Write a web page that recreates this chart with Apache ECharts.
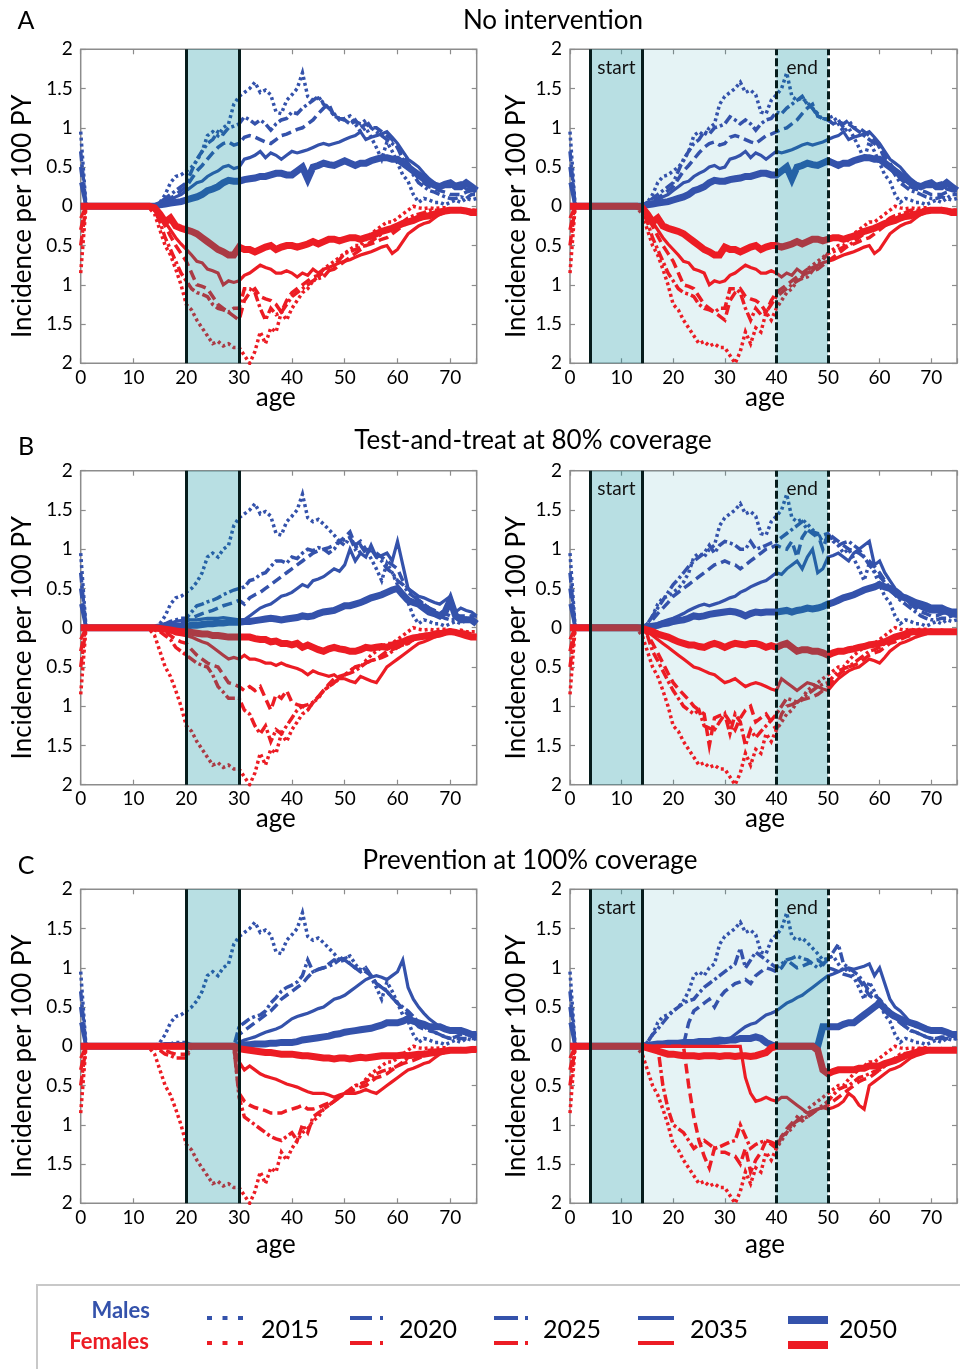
<!DOCTYPE html>
<html><head><meta charset="utf-8">
<script src="https://cdn.jsdelivr.net/npm/echarts@6/dist/echarts.min.js"></script>
<style>html,body{margin:0;padding:0;background:#fff}#c{width:960px;height:1369px}</style>
</head><body><div id="c"></div>
<script>
// ---------- DATA (ages 0..75, one value per year; females negative) ----------
const xTicks = [0,10,20,30,40,50,60,70];
const yTicks = [-2,-1.5,-1,-0.5,0,0.5,1,1.5,2];
const years = ['2015','2020','2025','2035','2050'];
const titles = ['No intervention','Test-and-treat at 80% coverage','Prevention at 100% coverage'];
const letters = ['A','B','C'];
const bandLeft = [20,30];
const bandStart = [4,14];
const bandEnd = [40,50];

const M2015 = [0.95,0,0,0,0,0,0,0,0,0, 0,0,0,0,0,0.05,0.15,0.3,0.38,0.4, 0.45,0.5,0.58,0.7,0.9,0.95,0.9,1.0,1.05,1.3, 1.4,1.45,1.5,1.58,1.45,1.48,1.42,1.2,1.18,1.35, 1.42,1.5,1.7,1.4,1.35,1.38,1.32,1.25,1.18,1.1, 1.12,1.15,1.05,0.95,1.0,0.88,0.75,0.6,0.82,0.7, 0.55,0.4,0.32,0.15,0.05,0.1,0.08,0.05,0.05,0.02, 0.05,0.08,0.05,0.1,0.08,0.1];
const F2015 = [-0.85,0,0,0,0,0,0,0,0,0, 0,0,0,-0.02,-0.1,-0.3,-0.5,-0.62,-0.8,-1.0, -1.25,-1.32,-1.45,-1.55,-1.65,-1.75,-1.72,-1.78,-1.75,-1.8, -1.8,-1.9,-2.0,-1.85,-1.6,-1.75,-1.55,-1.6,-1.35,-1.45, -1.3,-1.2,-1.1,-1.05,-0.95,-0.9,-0.8,-0.75,-0.7,-0.65, -0.6,-0.55,-0.5,-0.5,-0.42,-0.35,-0.3,-0.25,-0.2,-0.2, -0.15,-0.1,-0.05,0,-0.02,-0.03,-0.02,-0.03,-0.02,-0.02, -0.03,-0.05,-0.03,-0.05,-0.05,-0.05];

// A: no intervention
const MA2020 = [0.7,0,0,0,0,0,0,0,0,0, 0,0,0,0,0,0.05,0.1,0.15,0.2,0.25, 0.3,0.45,0.6,0.7,0.8,0.85,0.95,0.92,1.0,1.02, 1.05,1.14,1.1,1.05,1.1,1.05,0.97,1.05,1.1,1.12, 1.2,1.18,1.25,1.3,1.35,1.4,1.3,1.25,1.15,1.12, 1.1,1.05,1.08,1.05,1.1,1.0,0.95,0.9,0.85,0.8, 0.75,0.6,0.5,0.4,0.3,0.25,0.2,0.18,0.15,0.12, 0.1,0.1,0.12,0.1,0.15,0.15];
const MA2025 = [0.5,0,0,0,0,0,0,0,0,0, 0,0,0,0,0,0.03,0.08,0.1,0.15,0.2, 0.25,0.35,0.45,0.52,0.6,0.68,0.75,0.8,0.82,0.78, 0.8,0.88,0.9,0.88,0.85,0.82,0.8,0.85,0.9,0.92, 0.95,0.98,1.0,1.05,1.1,1.18,1.25,1.3,1.15,1.12, 1.1,1.05,1.1,1.0,1.05,1.0,1.0,0.95,0.9,0.85, 0.75,0.65,0.55,0.45,0.35,0.3,0.25,0.22,0.2,0.18, 0.15,0.15,0.15,0.18,0.2,0.2];
const MA2035 = [0.3,0,0,0,0,0,0,0,0,0, 0,0,0,0,0,0.02,0.05,0.08,0.12,0.15, 0.2,0.25,0.3,0.32,0.38,0.42,0.45,0.5,0.52,0.48, 0.5,0.6,0.62,0.65,0.7,0.62,0.68,0.65,0.6,0.65, 0.7,0.68,0.7,0.72,0.75,0.78,0.8,0.78,0.8,0.82, 0.85,0.88,0.9,0.95,0.85,0.88,0.9,0.92,0.95,0.88, 0.8,0.7,0.6,0.55,0.5,0.42,0.35,0.3,0.25,0.25, 0.25,0.28,0.3,0.22,0.2,0.2];
const MA2050 = [0,0,0,0,0,0,0,0,0,0, 0,0,0,0,0,0.02,0.03,0.04,0.05,0.06, 0.08,0.1,0.12,0.15,0.2,0.22,0.25,0.3,0.33,0.32, 0.32,0.34,0.35,0.36,0.38,0.38,0.4,0.42,0.42,0.4, 0.4,0.45,0.5,0.35,0.5,0.52,0.55,0.53,0.52,0.55, 0.58,0.55,0.52,0.55,0.55,0.58,0.6,0.62,0.62,0.6, 0.6,0.55,0.5,0.45,0.4,0.35,0.3,0.27,0.25,0.28, 0.3,0.25,0.25,0.3,0.25,0.2];
const FA2020 = [-0.5,0,0,0,0,0,0,0,0,0, 0,0,0,0,-0.05,-0.2,-0.4,-0.55,-0.7,-0.85, -0.95,-1.05,-1.1,-1.12,-1.15,-1.25,-1.3,-1.32,-1.35,-1.3, -1.3,-1.05,-1.05,-1.1,-1.3,-1.45,-1.3,-1.38,-1.35,-1.25, -1.15,-1.1,-1.05,-1.0,-0.95,-0.92,-0.9,-0.82,-0.75,-0.68, -0.6,-0.58,-0.55,-0.52,-0.5,-0.45,-0.4,-0.35,-0.3,-0.28, -0.25,-0.2,-0.15,-0.12,-0.1,-0.08,-0.05,-0.05,-0.05,-0.04, -0.03,-0.04,-0.05,-0.05,-0.05,-0.05];
const FA2025 = [-0.3,0,0,0,0,0,0,0,0,0, 0,0,0,0,-0.03,-0.12,-0.25,-0.38,-0.5,-0.6, -0.7,-0.85,-1.0,-1.02,-1.05,-1.15,-1.25,-1.3,-1.35,-1.4, -1.45,-1.2,-1.1,-1.05,-1.15,-1.18,-1.2,-1.25,-1.35,-1.2, -1.1,-1.05,-1.0,-0.95,-0.9,-0.88,-0.85,-0.82,-0.8,-0.75, -0.7,-0.65,-0.6,-0.55,-0.5,-0.48,-0.45,-0.42,-0.4,-0.35, -0.3,-0.25,-0.2,-0.18,-0.15,-0.12,-0.1,-0.09,-0.08,-0.06, -0.05,-0.05,-0.05,-0.05,-0.05,-0.05];
const FA2035 = [-0.15,0,0,0,0,0,0,0,0,0, 0,0,0,0,-0.05,-0.12,-0.2,-0.3,-0.4,-0.48, -0.55,-0.62,-0.7,-0.72,-0.8,-0.82,-0.85,-1.0,-0.95,-0.97, -0.95,-0.88,-0.85,-0.8,-0.75,-0.78,-0.8,-0.85,-0.85,-0.82, -0.85,-0.9,-0.85,-0.88,-0.8,-0.85,-0.8,-0.78,-0.75,-0.72, -0.7,-0.68,-0.65,-0.62,-0.6,-0.58,-0.55,-0.52,-0.5,-0.6, -0.55,-0.45,-0.35,-0.3,-0.25,-0.22,-0.2,-0.15,-0.1,-0.08, -0.05,-0.05,-0.05,-0.08,-0.1,-0.1];
const FA2050 = [0,0,0,0,0,0,0,0,0,0, 0,0,0,0,-0.02,-0.1,-0.2,-0.15,-0.25,-0.28, -0.3,-0.32,-0.35,-0.4,-0.45,-0.5,-0.55,-0.58,-0.62,-0.62, -0.52,-0.55,-0.55,-0.58,-0.55,-0.52,-0.5,-0.55,-0.52,-0.5, -0.5,-0.52,-0.5,-0.48,-0.45,-0.48,-0.45,-0.42,-0.42,-0.44, -0.42,-0.4,-0.4,-0.42,-0.4,-0.38,-0.35,-0.32,-0.3,-0.28, -0.25,-0.22,-0.2,-0.18,-0.15,-0.13,-0.12,-0.1,-0.08,-0.06, -0.05,-0.05,-0.05,-0.06,-0.08,-0.08];

// B left: test-and-treat, ages 20-30
const MBL2020 = [0.7,0,0,0,0,0,0,0,0,0, 0,0,0,0,0,0.03,0.05,0.08,0.1,0.12, 0.12,0.2,0.28,0.3,0.33,0.35,0.38,0.42,0.45,0.48, 0.5,0.52,0.6,0.62,0.68,0.7,0.78,0.85,0.85,0.82, 0.9,0.88,0.95,1.0,0.98,1.02,1.0,0.95,1.0,1.1, 1.05,1.15,1.0,1.05,0.95,1.0,0.9,0.85,0.75,0.7, 0.6,0.55,0.45,0.4,0.35,0.3,0.25,0.2,0.15,0.12, 0.1,0.1,0.12,0.12,0.15,0.15];
const MBL2025 = [0.5,0,0,0,0,0,0,0,0,0, 0,0,0,0,0,0.02,0.04,0.05,0.06,0.07, 0.08,0.12,0.15,0.18,0.2,0.22,0.25,0.28,0.3,0.32, 0.35,0.3,0.38,0.42,0.45,0.5,0.55,0.6,0.65,0.7, 0.75,0.8,0.85,0.9,0.95,0.98,1.0,1.02,1.05,1.1, 1.15,1.22,1.05,1.1,1.0,0.98,0.95,0.9,0.85,0.8, 0.75,0.6,0.5,0.42,0.35,0.3,0.25,0.22,0.2,0.18, 0.15,0.15,0.15,0.15,0.15,0.15];
const MBL2035 = [0.3,0,0,0,0,0,0,0,0,0, 0,0,0,0,0,0.02,0.03,0.05,0.08,0.09, 0.1,0.1,0.1,0.11,0.12,0.12,0.12,0.13,0.12,0.11, 0.1,0.1,0.15,0.2,0.25,0.28,0.3,0.35,0.4,0.42, 0.45,0.5,0.55,0.52,0.6,0.62,0.65,0.7,0.75,0.72, 0.8,1.0,0.85,0.95,0.9,1.05,0.9,0.92,0.95,0.85, 1.1,0.8,0.5,0.45,0.4,0.38,0.35,0.32,0.3,0.35, 0.4,0.2,0.25,0.22,0.2,0.15];
const MBL2050 = [0,0,0,0,0,0,0,0,0,0, 0,0,0,0,0,0.01,0.02,0.02,0.02,0.02, 0.02,0.03,0.03,0.04,0.05,0.05,0.06,0.06,0.07,0.07, 0.07,0.08,0.08,0.09,0.1,0.11,0.12,0.11,0.1,0.11, 0.12,0.13,0.15,0.14,0.15,0.18,0.2,0.21,0.22,0.25, 0.28,0.28,0.3,0.32,0.35,0.38,0.4,0.42,0.45,0.48, 0.5,0.42,0.35,0.32,0.3,0.25,0.2,0.18,0.15,0.2, 0.35,0.15,0.1,0.1,0.1,0.05];
const FBL2020 = [-0.5,0,0,0,0,0,0,0,0,0, 0,0,0,0,-0.03,-0.05,-0.1,-0.15,-0.25,-0.3, -0.35,-0.4,-0.45,-0.48,-0.5,-0.6,-0.75,-0.82,-0.9,-0.9, -0.9,-1.05,-1.1,-1.25,-1.35,-1.25,-1.45,-1.3,-1.35,-1.25, -1.15,-1.05,-1.0,-0.98,-0.95,-0.88,-0.8,-0.75,-0.7,-0.65, -0.6,-0.58,-0.55,-0.5,-0.45,-0.42,-0.4,-0.38,-0.35,-0.3, -0.25,-0.22,-0.2,-0.15,-0.1,-0.09,-0.08,-0.06,-0.05,-0.05, -0.05,-0.05,-0.06,-0.08,-0.1,-0.1];
const FBL2025 = [-0.3,0,0,0,0,0,0,0,0,0, 0,0,0,0,-0.02,-0.03,-0.05,-0.1,-0.15,-0.18, -0.2,-0.28,-0.35,-0.4,-0.45,-0.48,-0.5,-0.6,-0.7,-0.72, -0.75,-0.8,-0.75,-0.8,-0.75,-0.9,-1.05,-0.85,-0.9,-0.8, -0.95,-0.98,-1.0,-1.05,-0.95,-0.88,-0.8,-0.72,-0.65,-0.62, -0.6,-0.55,-0.5,-0.48,-0.45,-0.42,-0.4,-0.35,-0.3,-0.28, -0.25,-0.22,-0.2,-0.15,-0.1,-0.09,-0.08,-0.06,-0.05,-0.05, -0.05,-0.05,-0.05,-0.06,-0.08,-0.08];
const FBL2035 = [-0.15,0,0,0,0,0,0,0,0,0, 0,0,0,0,-0.01,-0.02,-0.03,-0.05,-0.08,-0.09, -0.1,-0.12,-0.15,-0.18,-0.2,-0.25,-0.3,-0.35,-0.4,-0.38, -0.4,-0.35,-0.4,-0.4,-0.42,-0.45,-0.45,-0.48,-0.45,-0.48, -0.5,-0.52,-0.55,-0.6,-0.55,-0.58,-0.6,-0.62,-0.6,-0.65, -0.65,-0.68,-0.7,-0.62,-0.65,-0.68,-0.7,-0.6,-0.5,-0.45, -0.4,-0.35,-0.3,-0.25,-0.2,-0.18,-0.15,-0.12,-0.1,-0.08, -0.05,-0.05,-0.05,-0.08,-0.1,-0.1];
const FBL2050 = [0,0,0,0,0,0,0,0,0,0, 0,0,0,0,0,-0.01,-0.02,-0.03,-0.04,-0.05, -0.05,-0.06,-0.07,-0.08,-0.08,-0.1,-0.1,-0.11,-0.12,-0.12, -0.12,-0.12,-0.12,-0.14,-0.15,-0.15,-0.18,-0.17,-0.2,-0.2, -0.22,-0.2,-0.25,-0.22,-0.25,-0.28,-0.3,-0.27,-0.25,-0.27, -0.28,-0.3,-0.3,-0.28,-0.25,-0.26,-0.25,-0.24,-0.25,-0.22, -0.2,-0.18,-0.15,-0.13,-0.12,-0.11,-0.1,-0.09,-0.08,-0.06, -0.05,-0.06,-0.08,-0.1,-0.12,-0.12];

// B right: test-and-treat, start/end windows
const MBR2020 = [0.7,0,0,0,0,0,0,0,0,0, 0,0,0,0,0,0.05,0.15,0.25,0.35,0.45, 0.55,0.62,0.7,0.78,0.85,0.9,0.95,1.05,0.95,1.05, 1.1,1.08,1.05,1.0,1.0,1.1,1.0,1.02,1.05,1.08, 1.1,1.15,1.2,1.25,1.3,1.35,1.25,1.2,1.15,1.18, 1.2,1.1,1.05,1.08,1.1,1.05,1.0,0.9,0.8,0.72, 0.65,0.58,0.5,0.42,0.35,0.3,0.25,0.2,0.15,0.12, 0.1,0.1,0.12,0.12,0.15,0.15];
const MBR2025 = [0.5,0,0,0,0,0,0,0,0,0, 0,0,0,0,0,0.03,0.1,0.18,0.25,0.32, 0.4,0.45,0.5,0.55,0.6,0.65,0.7,0.75,0.8,0.82, 0.85,0.82,0.8,0.75,0.8,0.85,0.9,0.95,1.0,1.02, 1.05,1.02,1.0,1.1,0.9,1.15,1.25,1.22,1.2,1.0, 1.2,1.15,1.1,1.05,1.0,0.98,0.95,0.9,0.85,0.78, 0.7,0.6,0.5,0.45,0.4,0.35,0.3,0.25,0.2,0.18, 0.15,0.15,0.18,0.2,0.2,0.2];
const MBR2035 = [0.3,0,0,0,0,0,0,0,0,0, 0,0,0,0,0,0.02,0.03,0.05,0.08,0.1, 0.12,0.15,0.18,0.22,0.25,0.28,0.3,0.28,0.3,0.32, 0.35,0.38,0.4,0.45,0.48,0.52,0.55,0.58,0.6,0.65, 0.7,0.68,0.75,0.8,0.85,0.75,0.9,1.0,0.7,0.75, 0.9,0.92,0.95,0.9,0.85,0.95,1.0,1.05,1.1,0.8, 0.85,0.7,0.6,0.5,0.45,0.38,0.3,0.28,0.25,0.22, 0.2,0.2,0.2,0.18,0.15,0.15];
const MBR2050 = [0,0,0,0,0,0,0,0,0,0, 0,0,0,0,0,0.01,0.02,0.03,0.05,0.06, 0.08,0.09,0.1,0.12,0.15,0.14,0.15,0.17,0.18,0.19, 0.2,0.21,0.2,0.18,0.15,0.18,0.2,0.19,0.2,0.2, 0.2,0.21,0.22,0.2,0.22,0.23,0.25,0.24,0.25,0.27, 0.3,0.32,0.35,0.38,0.4,0.42,0.45,0.48,0.5,0.52, 0.55,0.52,0.5,0.45,0.4,0.38,0.35,0.32,0.3,0.28, 0.25,0.25,0.25,0.22,0.2,0.2];
const FBR2020 = [-0.5,0,0,0,0,0,0,0,0,0, 0,0,0,0,-0.03,-0.1,-0.3,-0.42,-0.55,-0.68, -0.8,-0.9,-1.0,-1.05,-1.1,-1.05,-1.25,-1.28,-1.3,-1.2, -1.1,-1.35,-1.1,-1.2,-1.5,-1.3,-1.4,-1.32,-1.25,-1.18, -1.1,-1.0,-0.9,-0.92,-0.95,-0.9,-0.85,-0.8,-0.75,-0.72, -0.7,-0.62,-0.55,-0.52,-0.5,-0.45,-0.4,-0.35,-0.3,-0.28, -0.25,-0.2,-0.15,-0.12,-0.1,-0.09,-0.08,-0.06,-0.05,-0.05, -0.05,-0.05,-0.05,-0.05,-0.05,-0.05];
const FBR2025 = [-0.3,0,0,0,0,0,0,0,0,0, 0,0,0,0,-0.02,-0.08,-0.2,-0.32,-0.45,-0.58, -0.7,-0.78,-0.85,-0.92,-1.0,-1.05,-1.1,-1.5,-1.15,-1.12, -1.1,-1.2,-1.3,-1.15,-1.05,-1.0,-1.2,-1.15,-1.1,-1.2, -1.3,-1.1,-1.0,-0.98,-0.95,-0.92,-0.9,-0.88,-0.85,-0.8, -0.75,-0.68,-0.6,-0.55,-0.5,-0.48,-0.45,-0.4,-0.35,-0.32, -0.3,-0.25,-0.2,-0.18,-0.15,-0.12,-0.1,-0.08,-0.05,-0.05, -0.05,-0.05,-0.05,-0.05,-0.05,-0.05];
const FBR2035 = [-0.15,0,0,0,0,0,0,0,0,0, 0,0,0,0,-0.02,-0.05,-0.1,-0.15,-0.2,-0.25, -0.3,-0.35,-0.4,-0.45,-0.5,-0.52,-0.55,-0.58,-0.6,-0.65, -0.7,-0.68,-0.65,-0.7,-0.75,-0.72,-0.7,-0.72,-0.75,-0.78, -0.8,-0.65,-0.7,-0.75,-0.8,-0.75,-0.7,-0.72,-0.75,-0.78, -0.8,-0.72,-0.65,-0.6,-0.55,-0.52,-0.5,-0.45,-0.4,-0.42, -0.45,-0.38,-0.3,-0.25,-0.2,-0.18,-0.15,-0.12,-0.1,-0.08, -0.05,-0.05,-0.05,-0.05,-0.05,-0.05];
const FBR2050 = [0,0,0,0,0,0,0,0,0,0, 0,0,0,0,-0.01,-0.03,-0.05,-0.08,-0.1,-0.12, -0.15,-0.18,-0.2,-0.22,-0.22,-0.24,-0.25,-0.22,-0.2,-0.22, -0.25,-0.22,-0.2,-0.21,-0.22,-0.2,-0.2,-0.22,-0.25,-0.23, -0.25,-0.22,-0.2,-0.25,-0.3,-0.28,-0.28,-0.3,-0.3,-0.32, -0.35,-0.32,-0.3,-0.3,-0.28,-0.27,-0.25,-0.24,-0.22,-0.21, -0.2,-0.18,-0.15,-0.12,-0.1,-0.08,-0.05,-0.05,-0.05,-0.05, -0.05,-0.05,-0.05,-0.05,-0.05,-0.05];

// C left: prevention, ages 20-30
const MCL2020 = [0.7,0,0,0,0,0,0,0,0,0, 0,0,0,0,0,0.01,0.02,0.03,0.05,0.05, 0.05,0,0,0,0,0,0,0,0,0, 0.25,0.3,0.35,0.38,0.4,0.45,0.55,0.62,0.7,0.75, 0.78,0.82,0.9,1.1,0.95,0.98,1.0,1.02,1.05,1.1, 1.15,1.05,1.0,0.98,0.95,0.9,0.8,0.75,0.7,0.62, 0.55,0.5,0.45,0.38,0.3,0.25,0.2,0.18,0.15,0.12, 0.1,0.12,0.15,0.15,0.15,0.15];
const MCL2025 = [0.5,0,0,0,0,0,0,0,0,0, 0,0,0,0,0,0.01,0.02,0.02,0.03,0.03, 0.03,0,0,0,0,0,0,0,0,0, 0.15,0.2,0.25,0.3,0.35,0.4,0.45,0.52,0.6,0.65, 0.7,0.75,0.8,0.88,0.95,0.98,1.0,1.05,1.1,1.08, 1.1,1.05,1.0,0.95,1.0,0.9,0.8,0.75,0.7,0.62, 0.55,0.48,0.4,0.32,0.25,0.22,0.2,0.18,0.15,0.12, 0.1,0.1,0.1,0.1,0.1,0.1];
const MCL2035 = [0.3,0,0,0,0,0,0,0,0,0, 0,0,0,0,0,0.01,0.02,0.02,0.03,0.03, 0.03,0,0,0,0,0,0,0,0,0, 0.05,0.08,0.1,0.12,0.15,0.18,0.2,0.22,0.25,0.3, 0.35,0.38,0.4,0.42,0.45,0.48,0.5,0.55,0.6,0.62, 0.65,0.7,0.75,0.8,0.85,0.88,0.9,0.88,0.85,0.9, 0.95,1.1,0.75,0.6,0.5,0.42,0.35,0.3,0.25,0.22, 0.2,0.2,0.2,0.18,0.15,0.15];
const MCL2050 = [0,0,0,0,0,0,0,0,0,0, 0,0,0,0,0,0,0.01,0.01,0.01,0.01, 0.01,0,0,0,0,0,0,0,0,0, 0.02,0.02,0.02,0.03,0.03,0.03,0.04,0.04,0.05,0.05, 0.05,0.06,0.08,0.09,0.1,0.11,0.12,0.13,0.15,0.16, 0.18,0.19,0.2,0.21,0.22,0.23,0.25,0.27,0.3,0.3, 0.3,0.32,0.35,0.32,0.3,0.28,0.25,0.25,0.25,0.22, 0.2,0.2,0.2,0.18,0.15,0.15];
const FCL2020 = [-0.5,0,0,0,0,0,0,0,0,0, 0,0,0,0,-0.02,-0.05,-0.1,-0.12,-0.15,-0.15, -0.15,0,0,0,0,0,0,0,0,0, -0.65,-0.9,-0.95,-1.0,-1.05,-1.1,-1.15,-1.18,-1.2,-1.15, -1.1,-1.2,-1.0,-1.1,-0.9,-0.85,-0.8,-0.75,-0.7,-0.65, -0.6,-0.55,-0.5,-0.48,-0.45,-0.4,-0.35,-0.32,-0.3,-0.28, -0.25,-0.2,-0.15,-0.12,-0.1,-0.08,-0.05,-0.05,-0.05,-0.05, -0.05,-0.05,-0.05,-0.05,-0.05,-0.05];
const FCL2025 = [-0.3,0,0,0,0,0,0,0,0,0, 0,0,0,0,-0.01,-0.03,-0.05,-0.08,-0.1,-0.1, -0.1,0,0,0,0,0,0,0,0,0, -0.6,-0.7,-0.75,-0.78,-0.8,-0.82,-0.85,-0.85,-0.85,-0.82, -0.8,-0.78,-0.75,-0.8,-0.8,-0.78,-0.75,-0.72,-0.7,-0.65, -0.6,-0.58,-0.55,-0.52,-0.5,-0.45,-0.4,-0.38,-0.35,-0.3, -0.25,-0.22,-0.2,-0.18,-0.15,-0.12,-0.1,-0.08,-0.05,-0.05, -0.05,-0.05,-0.05,-0.05,-0.05,-0.05];
const FCL2035 = [-0.15,0,0,0,0,0,0,0,0,0, 0,0,0,0,0,0,-0.01,-0.02,-0.02,-0.02, -0.02,0,0,0,0,0,0,0,0,0, -0.2,-0.3,-0.25,-0.3,-0.35,-0.38,-0.4,-0.42,-0.45,-0.48, -0.5,-0.52,-0.55,-0.58,-0.6,-0.6,-0.6,-0.62,-0.65,-0.62, -0.6,-0.6,-0.6,-0.58,-0.55,-0.58,-0.6,-0.55,-0.5,-0.45, -0.4,-0.35,-0.3,-0.28,-0.25,-0.22,-0.2,-0.15,-0.1,-0.08, -0.05,-0.05,-0.05,-0.05,-0.05,-0.05];
const FCL2050 = [0,0,0,0,0,0,0,0,0,0, 0,0,0,0,0,0,0,0,0,0, 0,0,0,0,0,0,0,0,0,0, -0.03,-0.04,-0.05,-0.06,-0.07,-0.08,-0.08,-0.09,-0.1,-0.1, -0.1,-0.11,-0.12,-0.12,-0.13,-0.14,-0.15,-0.15,-0.16,-0.15, -0.15,-0.16,-0.15,-0.14,-0.15,-0.14,-0.13,-0.12,-0.12,-0.12, -0.12,-0.11,-0.12,-0.11,-0.1,-0.1,-0.09,-0.08,-0.07,-0.06, -0.05,-0.05,-0.05,-0.05,-0.04,-0.04];

// C right: prevention, start/end windows
const MCR2020 = [0.7,0,0,0,0,0,0,0,0,0, 0,0,0,0,0,0.05,0.15,0.22,0.3,0.38, 0.45,0.5,0.55,0.58,0.6,0.68,0.75,0.8,0.85,0.9, 0.95,1.0,1.05,1.25,1.0,1.1,1.2,1.15,1.1,1.05, 1.0,1.05,1.1,1.12,1.15,1.12,1.1,1.05,1.0,1.05, 1.1,1.2,1.3,1.05,1.0,0.95,0.9,0.8,0.7,0.65, 0.6,0.52,0.45,0.38,0.3,0.25,0.2,0.18,0.15,0.12, 0.1,0.1,0.12,0.12,0.15,0.15];
const MCR2025 = [0.5,0,0,0,0,0,0,0,0,0, 0,0,0,0,0,0.01,0.02,0.02,0.02,0.02, 0.02,0.02,0.02,0.3,0.45,0.5,0.55,0.6,0.5,0.62, 0.7,0.75,0.8,0.82,0.85,0.8,0.9,0.95,1.0,0.98, 0.95,1.0,1.1,1.05,1.0,1.02,1.05,1.08,1.1,1.05, 1.0,0.98,0.95,0.92,0.9,0.88,0.85,0.75,0.65,0.6, 0.55,0.48,0.4,0.35,0.3,0.25,0.2,0.18,0.15,0.12, 0.1,0.1,0.1,0.1,0.1,0.1];
const MCR2035 = [0.3,0,0,0,0,0,0,0,0,0, 0,0,0,0,0,0.01,0.02,0.02,0.02,0.02, 0.02,0.02,0.02,0.02,0.02,0.02,0.02,0.02,0.03,0.04, 0.05,0.1,0.15,0.2,0.25,0.28,0.3,0.35,0.4,0.42, 0.45,0.5,0.55,0.58,0.62,0.65,0.7,0.75,0.8,0.85, 0.9,0.92,0.95,0.98,1.0,0.98,1.0,1.02,1.05,0.9, 1.0,0.8,0.6,0.5,0.45,0.38,0.3,0.25,0.25,0.22, 0.2,0.2,0.2,0.18,0.15,0.15];
const MCR2050 = [0,0,0,0,0,0,0,0,0,0, 0,0,0,0,0,0.01,0.02,0.03,0.03,0.04, 0.04,0.04,0.05,0.05,0.05,0.06,0.06,0.06,0.07,0.08, 0.07,0.08,0.08,0.1,0.1,0.1,0.12,0.1,0.05,0.02, 0,0,0,0,0,0,0,0,0,0.25, 0.25,0.25,0.25,0.28,0.3,0.3,0.35,0.4,0.45,0.5, 0.55,0.48,0.42,0.38,0.35,0.32,0.3,0.28,0.25,0.22, 0.2,0.2,0.2,0.18,0.15,0.15];
const FCR2020 = [-0.5,0,0,0,0,0,0,0,0,0, 0,0,0,0,0,0,0,0,-0.5,-0.8, -1.0,-1.05,-1.1,-1.2,-1.3,-1.25,-1.2,-1.25,-1.3,-1.28, -1.25,-1.22,-1.2,-1.0,-1.15,-1.3,-1.25,-1.22,-1.2,-1.22, -1.25,-1.15,-1.1,-1.0,-0.95,-0.92,-0.9,-0.85,-0.8,-0.75, -0.7,-0.62,-0.55,-0.52,-0.5,-0.45,-0.4,-0.38,-0.35,-0.32, -0.3,-0.25,-0.2,-0.15,-0.1,-0.09,-0.08,-0.06,-0.05,-0.05, -0.05,-0.05,-0.05,-0.05,-0.05,-0.05];
const FCR2025 = [-0.3,0,0,0,0,0,0,0,0,0, 0,0,0,0,0,0,0,0,0,0, 0,0,0,-0.5,-0.9,-1.2,-1.4,-1.55,-1.3,-1.35, -1.35,-1.38,-1.4,-1.5,-1.3,-1.6,-1.45,-1.35,-1.2,-1.25, -1.3,-1.15,-1.05,-0.98,-0.9,-0.95,-0.9,-0.85,-0.8,-0.78, -0.75,-0.7,-0.65,-0.6,-0.55,-0.5,-0.45,-0.42,-0.4,-0.35, -0.3,-0.25,-0.2,-0.18,-0.15,-0.12,-0.1,-0.08,-0.05,-0.05, -0.05,-0.05,-0.05,-0.05,-0.05,-0.05];
const FCR2035 = [-0.15,0,0,0,0,0,0,0,0,0, 0,0,0,0,0,0,0,0,0,0, 0,0,0,0,0,0,0,0,0,0, 0,0,0,0,-0.4,-0.6,-0.7,-0.68,-0.65,-0.68, -0.7,-0.65,-0.65,-0.7,-0.75,-0.8,-0.85,-0.82,-0.8,-0.78, -0.8,-0.78,-0.75,-0.7,-0.6,-0.65,-0.75,-0.8,-0.5,-0.45, -0.4,-0.35,-0.3,-0.28,-0.25,-0.2,-0.15,-0.12,-0.1,-0.08, -0.05,-0.05,-0.05,-0.05,-0.05,-0.05];
const FCR2050 = [0,0,0,0,0,0,0,0,0,0, 0,0,0,0,0,-0.02,-0.04,-0.06,-0.08,-0.1, -0.1,-0.11,-0.12,-0.12,-0.12,-0.13,-0.12,-0.12,-0.12,-0.13, -0.12,-0.12,-0.13,-0.12,-0.12,-0.13,-0.12,-0.1,-0.08,-0.02, 0,0,0,0,0,0,0,0,-0.05,-0.3, -0.35,-0.32,-0.3,-0.3,-0.3,-0.3,-0.28,-0.28,-0.25,-0.25, -0.25,-0.22,-0.2,-0.18,-0.15,-0.12,-0.1,-0.08,-0.05,-0.05, -0.05,-0.05,-0.05,-0.05,-0.05,-0.05];

const panels = [
  {row:0, col:0, m:[M2015,MA2020,MA2025,MA2035,MA2050], f:[F2015,FA2020,FA2025,FA2035,FA2050]},
  {row:0, col:1, m:[M2015,MA2020,MA2025,MA2035,MA2050], f:[F2015,FA2020,FA2025,FA2035,FA2050]},
  {row:1, col:0, m:[M2015,MBL2020,MBL2025,MBL2035,MBL2050], f:[F2015,FBL2020,FBL2025,FBL2035,FBL2050]},
  {row:1, col:1, m:[M2015,MBR2020,MBR2025,MBR2035,MBR2050], f:[F2015,FBR2020,FBR2025,FBR2035,FBR2050]},
  {row:2, col:0, m:[M2015,MCL2020,MCL2025,MCL2035,MCL2050], f:[F2015,FCL2020,FCL2025,FCL2035,FCL2050]},
  {row:2, col:1, m:[M2015,MCR2020,MCR2025,MCR2035,MCR2050], f:[F2015,FCR2020,FCR2025,FCR2035,FCR2050]}
];
panels.forEach(p => p.m.concat(p.f).forEach(a => { if (a.length !== 76) throw new Error('bad length ' + a.length); }));

// ---------- STYLE / LAYOUT ----------
const FONT = 'Lato';
const BLUE = '#3452ab', RED = '#ec1c24';
const colLeft = [80.7, 570], rowTop = [49.3, 470.7, 889.3];
const PW = 396, PH = 314;
const lineStyles = [
  {type:[3,3], width:3.5},
  {type:[10,3,3,3], width:3.5},
  {type:[10,5], width:3.5},
  {type:'solid', width:3.2},
  {type:'solid', width:7}
];
const darkBand = 'rgba(0,140,155,0.28)';
const lightBand = 'rgba(0,140,155,0.10)';
const edgeColor = '#061c1c';

const chart = echarts.init(document.getElementById('c'), null, {renderer:'canvas'});
const option = {animation:false, backgroundColor:'#fff', grid:[], xAxis:[], yAxis:[], series:[], graphic:[]};

const tickStyle = {show:true, inside:true, length:5, lineStyle:{color:'#8c8c8c', width:1.2}};
panels.forEach((p, i) => {
  option.grid.push({left:colLeft[p.col], top:rowTop[p.row], width:PW, height:PH, show:true,
    borderColor:'#8c8c8c', borderWidth:1.5, backgroundColor:'transparent'});
  const xb = {gridIndex:i, type:'value', min:0, max:75, interval:10, splitLine:{show:false}, axisLine:{show:false, onZero:false}, axisTick:tickStyle};
  option.xAxis.push(Object.assign({}, xb, {position:'bottom',
    axisLabel:{fontFamily:FONT, fontSize:19, color:'#000', margin:5,
      formatter: v => (xTicks.indexOf(v) >= 0 ? String(v) : '')}}));
  option.xAxis.push(Object.assign({}, xb, {position:'top', axisLabel:{show:false}}));
  const yb = {gridIndex:i, type:'value', min:yTicks[0], max:yTicks[yTicks.length-1], interval:0.5, splitLine:{show:false}, axisLine:{show:false, onZero:false}, axisTick:tickStyle};
  option.yAxis.push(Object.assign({}, yb, {position:'left',
    axisLabel:{fontFamily:FONT, fontSize:19, color:'#000', margin:8, formatter: v => String(Math.abs(v))}}));
  option.yAxis.push(Object.assign({}, yb, {position:'right', axisLabel:{show:false}}));

  const xi = 2*i, yi = 2*i;
  [[p.m, BLUE], [p.f, RED]].forEach(([arrs, color]) => {
    arrs.forEach((arr, k) => {
      option.series.push({type:'line', xAxisIndex:xi, yAxisIndex:yi, z:2, silent:true,
        symbol:'none', showSymbol:false, data: arr.map((v, a) => [a, v]),
        lineStyle:{color:color, width:lineStyles[k].width, type:lineStyles[k].type, cap:'butt', join:'miter'}});
    });
  });

  if (p.col === 0) {
    option.series.push({type:'line', xAxisIndex:xi, yAxisIndex:yi, data:[], z:10, silent:true,
      markArea:{z:20, silent:true, itemStyle:{color:darkBand}, data:[[{xAxis:bandLeft[0]},{xAxis:bandLeft[1]}]]}});
    option.series.push({type:'line', xAxisIndex:xi, yAxisIndex:yi, data:[], z:11, silent:true,
      markLine:{z:21, silent:true, symbol:'none', label:{show:false}, lineStyle:{color:edgeColor, width:3, type:'solid'},
        data:[{xAxis:bandLeft[0]},{xAxis:bandLeft[1]}]}});
  } else {
    option.series.push({type:'line', xAxisIndex:xi, yAxisIndex:yi, data:[], z:1, silent:true,
      markArea:{z:1, silent:true, itemStyle:{color:lightBand}, data:[[{xAxis:bandStart[1]},{xAxis:bandEnd[0]}]]}});
    option.series.push({type:'line', xAxisIndex:xi, yAxisIndex:yi, data:[], z:10, silent:true,
      markArea:{z:20, silent:true, itemStyle:{color:darkBand},
        label:{show:true, position:'insideTop', distance:9, color:'#111', fontFamily:FONT, fontSize:19},
        data:[[{xAxis:bandStart[0], name:'start'},{xAxis:bandStart[1]}],[{xAxis:bandEnd[0], name:'end'},{xAxis:bandEnd[1]}]]}});
    option.series.push({type:'line', xAxisIndex:xi, yAxisIndex:yi, data:[], z:11, silent:true,
      markLine:{z:21, silent:true, symbol:'none', label:{show:false}, lineStyle:{color:edgeColor, width:3, type:'solid'},
        data:[{xAxis:bandStart[0]},{xAxis:bandStart[1]}]}});
    option.series.push({type:'line', xAxisIndex:xi, yAxisIndex:yi, data:[], z:11, silent:true,
      markLine:{z:21, silent:true, symbol:'none', label:{show:false}, lineStyle:{color:edgeColor, width:3, type:[8,3]},
        data:[{xAxis:bandEnd[0]},{xAxis:bandEnd[1]}]}});
  }

  // axis names
  const cx = colLeft[p.col] + PW/2, cy = rowTop[p.row] + PH/2;
  option.graphic.push({type:'text', x: p.col === 0 ? 23 : 517, y: cy + 10, rotation: Math.PI/2,
    style:{text:'Incidence per 100 PY', fontFamily:FONT, fontSize:26, fill:'#000', align:'center', verticalAlign:'middle'}});
  option.graphic.push({type:'text', x: cx - 3, y: rowTop[p.row] + PH + (p.row === 2 ? 41 : 34),
    style:{text:'age', fontFamily:FONT, fontSize:26, fill:'#000', align:'center', verticalAlign:'middle'}});
});

// titles and letters
const titleY = [21, 441, 861], titleX = [553, 533, 530], letterY = [21, 447, 866];
titles.forEach((t, r) => {
  option.graphic.push({type:'text', x:titleX[r], y:titleY[r],
    style:{text:t, fontFamily:FONT, fontSize:26, fill:'#000', align:'center', verticalAlign:'middle'}});
  option.graphic.push({type:'text', x:26, y:letterY[r],
    style:{text:letters[r], fontFamily:FONT, fontSize:25, fill:'#000', align:'center', verticalAlign:'middle'}});
});

// legend
option.graphic.push({type:'rect', shape:{x:37, y:1285, width:1000, height:200},
  style:{fill:'none', stroke:'#c8c8c8', lineWidth:2}});
option.graphic.push({type:'text', x:150, y:1311, style:{text:'Males', fontFamily:FONT, fontWeight:'bold', fontSize:22, fill:BLUE, align:'right', verticalAlign:'middle'}});
option.graphic.push({type:'text', x:149, y:1342, style:{text:'Females', fontFamily:FONT, fontWeight:'bold', fontSize:22, fill:RED, align:'right', verticalAlign:'middle'}});
const legX = [207, 350, 494, 638, 788], legW = [36, 33, 34, 36, 40], legTextX = [261, 399, 543, 690, 839];
const legDash = [[5,10.5], [22,8,3,100], [24,7,3,100], null, null];
const legWidth = [4, 4, 4, 4, 8];
years.forEach((yr, k) => {
  [[BLUE, 1318], [RED, 1343]].forEach(([c, yy]) => {
    const y0 = k === 4 ? yy + 2 : yy;
    option.graphic.push({type:'line', shape:{x1:legX[k], y1:y0, x2:legX[k]+legW[k], y2:y0},
      style:{stroke:c, lineWidth:legWidth[k], lineDash:legDash[k] || null, lineCap:'butt'}});
  });
  option.graphic.push({type:'text', x:legTextX[k], y:1330,
    style:{text:yr, fontFamily:FONT, fontSize:25, fill:'#000', align:'left', verticalAlign:'middle'}});
});

chart.setOption(option);
</script></body></html>
